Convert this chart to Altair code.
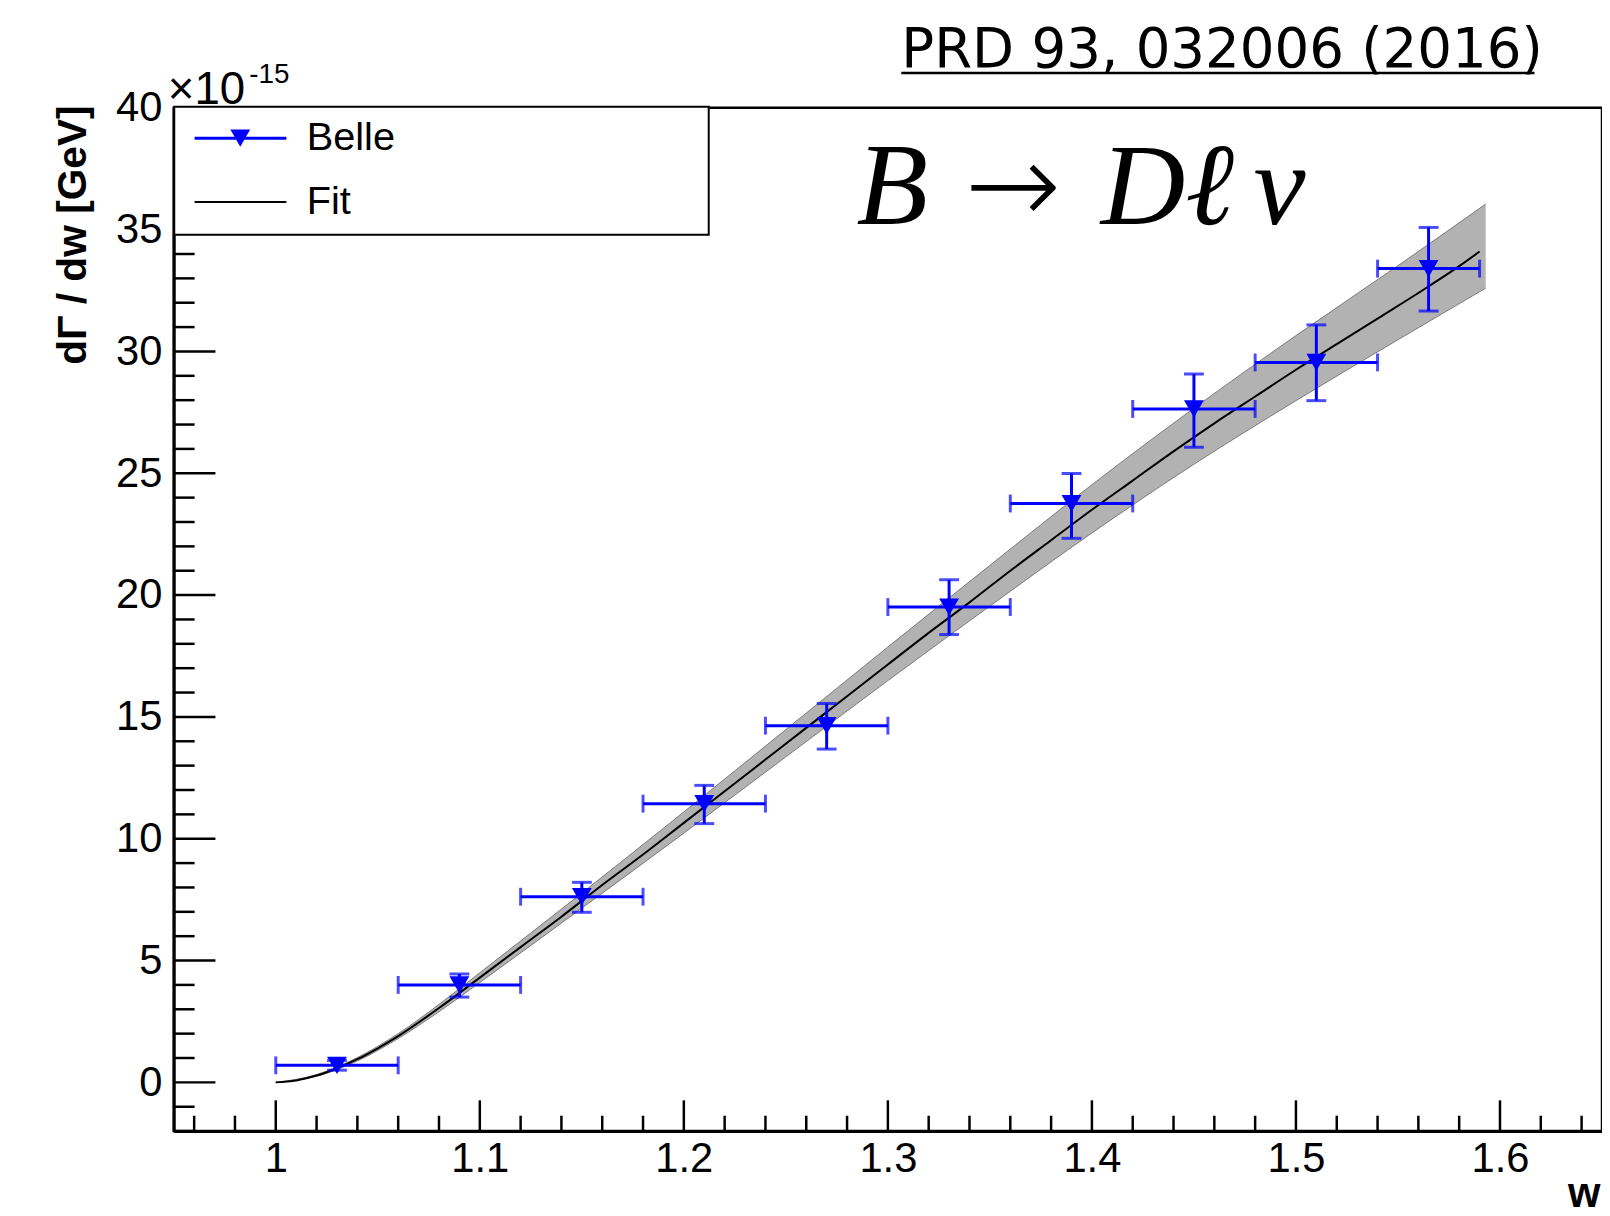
import altair as alt
import pandas as pd

# ---------------- data ----------------
# Belle points (bin centre, bin edges, value, error range)  [x1e-15 GeV]
w_center = [1.03, 1.09, 1.15, 1.21, 1.27, 1.33, 1.39, 1.45, 1.51, 1.565]
w_low = [1.00, 1.06, 1.12, 1.18, 1.24, 1.30, 1.36, 1.42, 1.48, 1.54]
w_high = [1.06, 1.12, 1.18, 1.24, 1.30, 1.36, 1.42, 1.48, 1.54, 1.59]
rate = [0.70, 4.00, 7.62, 11.44, 14.64, 19.51, 23.76, 27.64, 29.55, 33.40]
rate_low = [0.50, 3.50, 6.98, 10.62, 13.68, 18.38, 22.33, 26.07, 27.98, 31.66]
rate_high = [0.90, 4.45, 8.21, 12.19, 15.55, 20.63, 24.99, 29.07, 31.09, 35.09]

# Fit curve
fit_w = [1.00, 1.01, 1.02, 1.03, 1.04, 1.05, 1.06, 1.08, 1.10, 1.12, 1.14, 1.16,
         1.18, 1.20, 1.22, 1.24, 1.26, 1.28, 1.30, 1.32, 1.34, 1.36, 1.38, 1.40,
         1.42, 1.44, 1.46, 1.48, 1.50, 1.52, 1.54, 1.56, 1.58, 1.59]
fit_val = [0.0, 0.08, 0.28, 0.58, 0.95, 1.40, 1.90, 3.05, 4.30, 5.55, 6.80, 8.10,
           9.35, 10.65, 11.95, 13.25, 14.55, 15.85, 17.15, 18.45, 19.70, 21.00, 22.25, 23.50,
           24.70, 25.90, 27.05, 28.15, 29.25, 30.30, 31.35, 32.40, 33.50, 34.10]

# Fit uncertainty band
band_w = [1.00, 1.02, 1.04, 1.06, 1.08, 1.10, 1.15, 1.20, 1.25, 1.30, 1.35, 1.40,
          1.45, 1.50, 1.55, 1.593]
band_hi = [0.0, 0.32, 1.02, 2.00, 3.20, 4.50, 7.77, 11.10, 14.48, 17.87, 21.22, 24.53,
           27.67, 30.65, 33.52, 36.05]
band_lo = [0.0, 0.25, 0.88, 1.80, 2.90, 4.10, 7.15, 10.23, 13.36, 16.49, 19.55, 22.55,
           25.37, 27.98, 30.48, 32.60]

# axis tick values
x_major = [1.0, 1.1, 1.2, 1.3, 1.4, 1.5, 1.6]
x_minor = [0.96, 0.98, 1.02, 1.04, 1.06, 1.08, 1.12, 1.14, 1.16, 1.18, 1.22, 1.24,
           1.26, 1.28, 1.32, 1.34, 1.36, 1.38, 1.42, 1.44, 1.46, 1.48, 1.52, 1.54,
           1.56, 1.58, 1.62, 1.64]
y_major = [0, 5, 10, 15, 20, 25, 30, 35, 40]
y_minor = [v for v in range(-2, 41) if v % 5 != 0]

# ---------------- layout ----------------
W, H = 1439, 1031
BLUE = "#0000ff"
FONT = "Liberation Sans"

x_scale = alt.Scale(domain=[0.95, 1.65], nice=False, zero=False)
y_scale = alt.Scale(domain=[-2, 40], nice=False, zero=False)

pts = pd.DataFrame({"w": w_center, "wl": w_low, "wh": w_high,
                    "r": rate, "rl": rate_low, "rh": rate_high})
fit = pd.DataFrame({"w": fit_w, "r": fit_val})
band = pd.DataFrame({"w": band_w, "lo": band_lo, "hi": band_hi})
one = pd.DataFrame({"a": [0]})

x_axis = alt.Axis(
    values=x_major,
    labelExpr="datum.value == 1 ? '1' : format(datum.value, '.1f')",
    ticks=False, tickSize=0, grid=False,
    domainColor="black", domainWidth=3,
    labelFont=FONT, labelFontSize=42, labelColor="black", labelPadding=8,
    labelFlush=False, labelOverlap=False,
    title="w", titleFont=FONT, titleFontSize=42, titleFontWeight="bold",
    titleColor="black", titleX=W - 2, titleY=76, titleAlign="right",
    titleBaseline="alphabetic",
)
y_axis = alt.Axis(
    values=y_major,
    ticks=False, tickSize=0, grid=False,
    domainColor="black", domainWidth=3,
    labelFont=FONT, labelFontSize=42, labelColor="black", labelPadding=12,
    labelFlush=False, labelOverlap=False,
    title="dΓ / dw [GeV]", titleFont=FONT, titleFontSize=41,
    titleFontWeight="bold", titleColor="black", titleAngle=270,
    titleAlign="right", titleBaseline="middle", titleX=-101, titleY=-3,
)


def X(f):
    return alt.X(f, type="quantitative", scale=x_scale, axis=x_axis)


def Y(f):
    return alt.Y(f, type="quantitative", scale=y_scale, axis=y_axis)


band_area = alt.Chart(band).mark_area(color="#b2b2b2", interpolate="monotone").encode(
    x=X("w"), y=Y("lo"), y2="hi")
band_hi_line = alt.Chart(band).mark_line(color="#7a7a7a", strokeWidth=1, interpolate="monotone").encode(
    x=X("w"), y=Y("hi"))
band_lo_line = alt.Chart(band).mark_line(color="#7a7a7a", strokeWidth=1, interpolate="monotone").encode(
    x=X("w"), y=Y("lo"))
fit_line = alt.Chart(fit).mark_line(color="black", strokeWidth=2, interpolate="monotone").encode(
    x=X("w"), y=Y("r"))

xerr = alt.Chart(pts).mark_rule(color=BLUE, strokeWidth=3).encode(x=X("wl"), x2="wh", y=Y("r"))
yerr = alt.Chart(pts).mark_rule(color=BLUE, strokeWidth=3).encode(x=X("w"), y=Y("rl"), y2="rh")
cap_xl = alt.Chart(pts).mark_tick(color=BLUE, orient="vertical", size=18, thickness=3).encode(x=X("wl"), y=Y("r"))
cap_xh = alt.Chart(pts).mark_tick(color=BLUE, orient="vertical", size=18, thickness=3).encode(x=X("wh"), y=Y("r"))
cap_yl = alt.Chart(pts).mark_tick(color=BLUE, orient="horizontal", size=20, thickness=3).encode(x=X("w"), y=Y("rl"))
cap_yh = alt.Chart(pts).mark_tick(color=BLUE, orient="horizontal", size=20, thickness=3).encode(x=X("w"), y=Y("rh"))
markers = alt.Chart(pts).mark_point(shape="triangle-down", filled=True, color=BLUE, size=400, opacity=1).encode(
    x=X("w"), y=Y("r"))

# inward ROOT-style ticks
yt_major = alt.Chart(pd.DataFrame({"v": y_major})).mark_rule(color="black", strokeWidth=2.5).encode(
    y=Y("v"), x=alt.value(0), x2=alt.value(42))
yt_minor = alt.Chart(pd.DataFrame({"v": y_minor})).mark_rule(color="black", strokeWidth=2.5).encode(
    y=Y("v"), x=alt.value(0), x2=alt.value(21))
xt_major = alt.Chart(pd.DataFrame({"v": x_major})).mark_rule(color="black", strokeWidth=2.5).encode(
    x=X("v"), y=alt.value(H), y2=alt.value(H - 31))
xt_minor = alt.Chart(pd.DataFrame({"v": x_minor})).mark_rule(color="black", strokeWidth=2.5).encode(
    x=X("v"), y=alt.value(H), y2=alt.value(H - 15.5))

# legend
leg_box = alt.Chart(one).mark_rect(fill="white", stroke="black", strokeWidth=2).encode(
    x=alt.value(0.5), x2=alt.value(539), y=alt.value(-1), y2=alt.value(128))
leg_belle_line = alt.Chart(one).mark_rule(color=BLUE, strokeWidth=3).encode(
    x=alt.value(21), x2=alt.value(113.5), y=alt.value(30.6))
leg_belle_mark = alt.Chart(one).mark_point(shape="triangle-down", filled=True, color=BLUE, size=400, opacity=1).encode(
    x=alt.value(67), y=alt.value(30.6))
leg_belle_text = alt.Chart(one).mark_text(text="Belle", font=FONT, fontSize=40, color="black",
                                          align="left", baseline="middle").encode(
    x=alt.value(134), y=alt.value(30.6))
leg_fit_line = alt.Chart(one).mark_rule(color="black", strokeWidth=2).encode(
    x=alt.value(21), x2=alt.value(113.5), y=alt.value(95))
leg_fit_text = alt.Chart(one).mark_text(text="Fit", font=FONT, fontSize=40, color="black",
                                        align="left", baseline="middle").encode(
    x=alt.value(134), y=alt.value(95))

# exponent of y axis
exp_base = alt.Chart(one).mark_text(text="×10", font=FONT, fontSize=46, color="black",
                                    align="left", baseline="alphabetic").encode(
    x=alt.value(-6), y=alt.value(-4))
exp_sup = alt.Chart(one).mark_text(text="-15", font=FONT, fontSize=28, color="black",
                                   align="left", baseline="alphabetic").encode(
    x=alt.value(76), y=alt.value(-25))

# reference and process label
ref_text = alt.Chart(one).mark_text(text="PRD 93, 032006 (2016)", font="DejaVu Sans", fontSize=55,
                                    color="black", align="left", baseline="alphabetic").encode(
    x=alt.value(733), y=alt.value(-41))
ref_line = alt.Chart(one).mark_rule(color="black", strokeWidth=2.5).encode(
    x=alt.value(733), x2=alt.value(1371), y=alt.value(-35))
serif = dict(font="Liberation Serif", fontSize=118, fontStyle="italic", color="black",
             align="left", baseline="alphabetic")
proc_b = alt.Chart(one).mark_text(text="B", **serif).encode(x=alt.value(688), y=alt.value(117))
proc_arrow = alt.Chart(one).mark_text(text="→", font="DejaVu Sans", fontSize=116, fontWeight=300,
                                      color="black", align="left",
                                      baseline="alphabetic").encode(
    x=alt.value(797), y=alt.value(117))
proc_dl = alt.Chart(one).mark_text(text="Dℓ", **serif).encode(x=alt.value(934), y=alt.value(117))
proc_nu = alt.Chart(one).mark_text(text="ν", **serif).encode(x=alt.value(1088), y=alt.value(117))

chart = alt.layer(
    band_area, band_hi_line, band_lo_line, fit_line,
    xerr, yerr, cap_xl, cap_xh, cap_yl, cap_yh, markers,
    yt_major, yt_minor, xt_major, xt_minor,
    leg_box, leg_belle_line, leg_belle_mark, leg_belle_text, leg_fit_line, leg_fit_text,
    exp_base, exp_sup, ref_text, ref_line, proc_b, proc_arrow, proc_dl, proc_nu,
).properties(
    width=W, height=H,
    padding={"left": 167, "top": 96, "right": 0, "bottom": 84},
    autosize=alt.AutoSizeParams(type="none"),
    background="white",
).configure_view(stroke="black", strokeWidth=2.5)

chart.save("out.html", embed_options={"renderer": "svg", "actions": False})
